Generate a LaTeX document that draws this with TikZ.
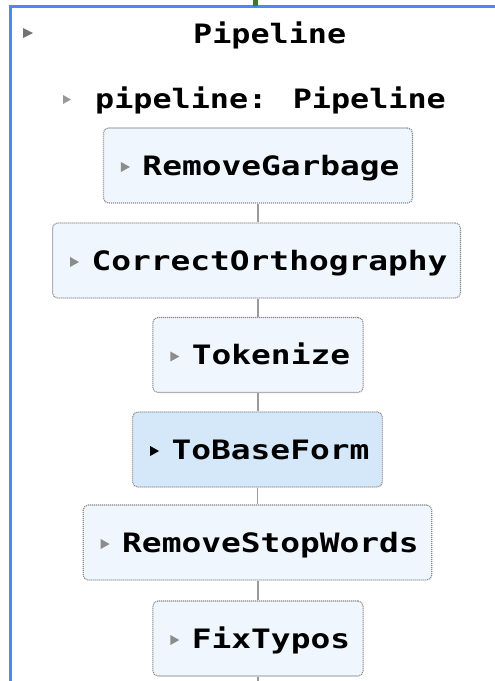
\documentclass[tikz,border=0pt]{standalone}
\usepackage{fontspec}
\newfontfamily\pipemono[FakeStretch=1.23]{DejaVu Sans Mono}
\newfontfamily\headmono[FakeStretch=1.19]{DejaVu Sans Mono}
\newcommand{\stagefont}{\pipemono\bfseries\fontsize{26.7}{32}\selectfont}
\newcommand{\headfont}{\headmono\bfseries\fontsize{26.7}{32}\selectfont}
\definecolor{frameblue}{HTML}{4A8AF4}
\definecolor{topgreen}{HTML}{3C7A1E}
\definecolor{boxfill}{HTML}{EFF6FD}
\definecolor{selfill}{HTML}{D5E8FA}
\definecolor{boxborder}{HTML}{8A8A8A}
\definecolor{linkgray}{HTML}{9A9A9A}
\definecolor{trigray}{HTML}{8C8C8C}
\tikzset{
  stage/.style={draw=boxborder, line width=1.1pt, dash pattern=on 1.1pt off 0.9pt,
    rounded corners=5pt, fill=boxfill, minimum height=75pt, inner xsep=13pt,
    inner ysep=0pt, text height=19.5pt, text depth=0pt, font=\stagefont, text=black},
  selstage/.style={stage, fill=selfill},
  link/.style={draw=linkgray, line width=1.1pt},
  label/.style={inner sep=0pt, font=\headfont, text=black}
}
\newcommand{\stagetri}[2]{\fill[#2] ([xshift=18pt,yshift=3.5pt]#1.west) -- ++(0,10) -- ++(9,-5) -- cycle;}
\begin{document}
\begin{tikzpicture}[x=1pt,y=-1pt]
\useasboundingbox[fill=white] (0,0) rectangle (495,681);
% frame
\fill[frameblue] (9,5) rectangle (495,7.5);
\fill[frameblue] (9,5) rectangle (11.5,681);
\fill[topgreen] (253,0) rectangle (258,5.5);
% header
\fill[black!55] (23,28) -- (23,38) -- (33,33) -- cycle;
\node[label, anchor=base west] (title) at (193,43.5) {Pipeline};
\fill[black!40] (63,95) -- (63,104) -- (71,99.5) -- cycle;
\node[label, anchor=base west] (sub) at (95,108) {pipeline: Pipeline};
% stages
\node[stage] (rg) at (258,165.5) {\hspace*{26pt}RemoveGarbage};
\node[stage] (co) at (256.5,260.5) {\hspace*{26pt}CorrectOrthography};
\node[stage] (tk) at (258,355) {\hspace*{26pt}Tokenize};
\node[selstage] (tb) at (257.5,449.5) {\hspace*{26pt}ToBaseForm};
\node[stage] (rs) at (257.5,542.5) {\hspace*{26pt}RemoveStopWords};
\node[stage] (ft) at (258,638.5) {\hspace*{26pt}FixTypos};
\coordinate (end) at (258,681);
\stagetri{rg}{trigray}
\stagetri{co}{trigray}
\stagetri{tk}{trigray}
\stagetri{tb}{black}
\stagetri{rs}{trigray}
\stagetri{ft}{trigray}
% links
\draw[link] (rg.south) -- (rg.south |- co.north);
\draw[link] (co.south -| tk.north) -- (tk.north);
\draw[link] (tk.south) -- (tk.south |- tb.north);
\draw[link] (tb.south) -- (tb.south |- rs.north);
\draw[link] (rs.south -| ft.north) -- (ft.north);
\draw[link] (ft.south) -- (end);
\end{tikzpicture}
\end{document}
